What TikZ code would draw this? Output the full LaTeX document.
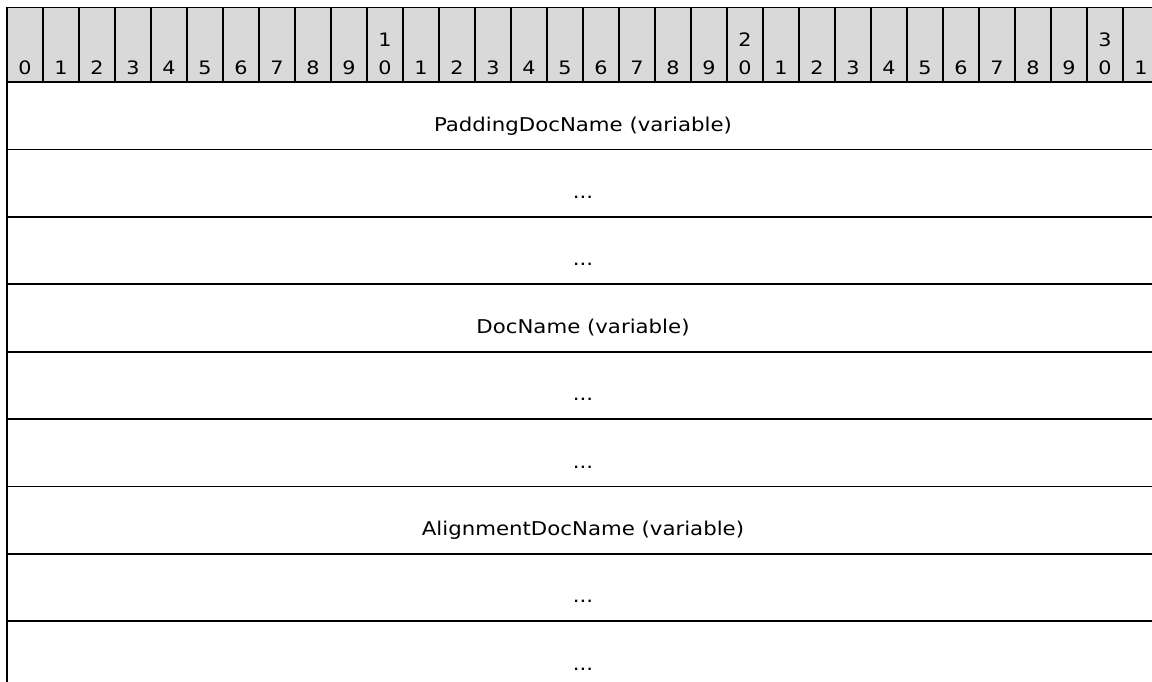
\documentclass[tikz,border=0pt]{standalone}
\usepackage{fontspec}
\setmainfont{DejaVu Sans}[FakeStretch=1.12]
\definecolor{hdrgray}{HTML}{D9D9D9}
\tikzset{
  grid line/.style={line width=1.8pt, black},
  bitlabel/.style={anchor=base, inner sep=0pt, font=\fontsize{18.5}{22}\selectfont},
  fieldlabel/.style={anchor=base, inner sep=0pt, font=\fontsize{19}{22}\selectfont}
}
\newcommand{\dotsthree}{...}
\begin{document}
\begin{tikzpicture}[x=1pt,y=-1pt]
\useasboundingbox (0,0) rectangle (1152,681);
\clip (0,0) rectangle (1152,681);
% header background
\fill[hdrgray] (7,7.5) rectangle (1159,82);
% bit numbers
\foreach \i in {0,...,31}{
  \pgfmathtruncatemacro{\ones}{mod(\i,10)}
  \pgfmathtruncatemacro{\tens}{div(\i,10)}
  \node[bitlabel] (b\i) at ({25+36*\i},74) {\ones};
  \ifnum\ones=0 \ifnum\tens>0
    \node[bitlabel] (t\i) at ({25+36*\i},46) {\tens};
  \fi\fi
}
% header grid
\foreach \k in {0,...,32}{
  \draw[grid line] ({7+36*\k},7.5) -- ({7+36*\k},82);
}
\draw[grid line] (6.1,7.5) -- (1160,7.5);
\draw[grid line] (6.1,82) -- (1160,82);
% rows
\node[fieldlabel] (f0) at (583,{82+67.4*0+49}) {PaddingDocName (variable)};
\node[fieldlabel] (f1) at (583,{82+67.4*1+49}) {\dotsthree};
\node[fieldlabel] (f2) at (583,{82+67.4*2+49}) {\dotsthree};
\node[fieldlabel] (f3) at (583,{82+67.4*3+49}) {DocName (variable)};
\node[fieldlabel] (f4) at (583,{82+67.4*4+49}) {\dotsthree};
\node[fieldlabel] (f5) at (583,{82+67.4*5+49}) {\dotsthree};
\node[fieldlabel] (f6) at (583,{82+67.4*6+49}) {AlignmentDocName (variable)};
\node[fieldlabel] (f7) at (583,{82+67.4*7+49}) {\dotsthree};
\node[fieldlabel] (f8) at (583,{82+67.4*8+49}) {\dotsthree};
\foreach \r in {1,2,3,4,5,6,7,8}{
  \draw[grid line] (6.1,{82+67.4*\r}) -- (1160,{82+67.4*\r});
}
\draw[grid line] (7,7.5) -- (7,690);
\draw[grid line] (1159,7.5) -- (1159,690);
\end{tikzpicture}
\end{document}
